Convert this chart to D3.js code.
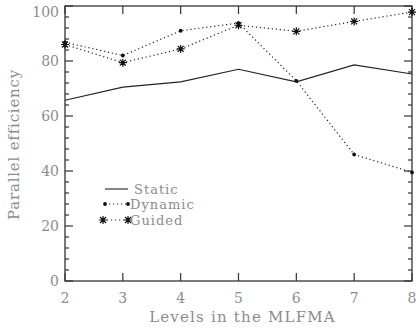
<!DOCTYPE html>
<html>
<head>
<meta charset="utf-8">
<script src="https://cdn.jsdelivr.net/npm/d3@7"></script>
<style>
  body { margin: 0; background: #fff; }
  text { font-family: "DejaVu Serif", serif; fill: #8c8c8c; }
</style>
</head>
<body>
<div id="chart"></div>
<script>
var levels = [2, 3, 4, 5, 6, 7, 8];
var staticEff  = [65.7, 70.5, 72.4, 77.0, 72.4, 78.6, 75.3];
var dynamicEff = [86.8, 82.0, 91.0, 93.8, 72.8, 46.0, 39.5];
var guidedEff  = [86.0, 79.4, 84.4, 93.0, 90.8, 94.4, 97.8];
var xTicks = [2, 3, 4, 5, 6, 7, 8];
var yTicks = [0, 20, 40, 60, 80, 100];
var seriesNames = ['Static', 'Dynamic', 'Guided'];

var W = 416, H = 329;
var margin = {top: 6, right: 4, bottom: 48, left: 65};
var width = W - margin.left - margin.right;
var height = H - margin.top - margin.bottom;

var svg = d3.select('#chart').append('svg')
    .attr('width', W)
    .attr('height', H)
  .append('g')
    .attr('transform', 'translate(' + margin.left + ',' + margin.top + ')');

var x = d3.scaleLinear().domain([2, 8]).range([0, width]);
var y = d3.scaleLinear().domain([0, 100]).range([height, 0]);

// frame
svg.append('rect')
    .attr('width', width).attr('height', height)
    .attr('fill', 'none').attr('stroke', '#333').attr('stroke-width', 1.3);

// x ticks bottom + top
xTicks.forEach(function(t) {
    svg.append('line').attr('x1', x(t)).attr('x2', x(t))
        .attr('y1', height).attr('y2', height - 8)
        .attr('stroke', '#333').attr('stroke-width', 1.2);
    svg.append('line').attr('x1', x(t)).attr('x2', x(t))
        .attr('y1', 0).attr('y2', 8)
        .attr('stroke', '#333').attr('stroke-width', 1.2);
    svg.append('text').attr('x', x(t)).attr('y', height + 22)
        .attr('text-anchor', 'middle').attr('font-size', 14).text(t);
});

// y ticks left + right, minor every 4
d3.range(0, 101, 4).forEach(function(t) {
    var major = t % 20 === 0;
    var len = major ? 8 : 4;
    svg.append('line').attr('x1', 0).attr('x2', len)
        .attr('y1', y(t)).attr('y2', y(t))
        .attr('stroke', '#333').attr('stroke-width', 1.2);
    svg.append('line').attr('x1', width).attr('x2', width - len)
        .attr('y1', y(t)).attr('y2', y(t))
        .attr('stroke', '#333').attr('stroke-width', 1.2);
});
yTicks.forEach(function(t) {
    var ty = Math.max(y(t) + 5, 11);
    svg.append('text').attr('x', -6).attr('y', ty)
        .attr('text-anchor', 'end').attr('font-size', 14).text(t);
});

// axis titles
svg.append('text')
    .attr('x', width / 2 + 4).attr('y', height + 41)
    .attr('text-anchor', 'middle').attr('font-size', 15)
    .attr('letter-spacing', 1.2)
    .text('Levels in the MLFMA');
svg.append('text')
    .attr('transform', 'translate(' + (-46) + ',' + (height / 2 + 1) + ') rotate(-90)')
    .attr('text-anchor', 'middle').attr('font-size', 15)
    .attr('letter-spacing', 0.8)
    .text('Parallel efficiency');

var line = d3.line()
    .x(function(d, i) { return x(levels[i]); })
    .y(function(d) { return y(d); });

svg.append('path').datum(staticEff)
    .attr('d', line).attr('fill', 'none')
    .attr('stroke', '#222').attr('stroke-width', 1.1);

svg.append('path').datum(dynamicEff)
    .attr('d', line).attr('fill', 'none')
    .attr('stroke', '#222').attr('stroke-width', 1.2)
    .attr('stroke-dasharray', '1.2,2.8');

svg.append('path').datum(guidedEff)
    .attr('d', line).attr('fill', 'none')
    .attr('stroke', '#222').attr('stroke-width', 1.2)
    .attr('stroke-dasharray', '1.2,2.8');

function dot(g, cx, cy) {
    g.append('circle').attr('cx', cx).attr('cy', cy).attr('r', 1.9).attr('fill', '#111');
}
function star(g, cx, cy) {
    var r = 4;
    var p = '';
    [[r, 0], [0, r], [r * 0.75, r * 0.75], [r * 0.75, -r * 0.75]].forEach(function(v) {
        p += 'M' + (cx - v[0]) + ',' + (cy - v[1]) + 'L' + (cx + v[0]) + ',' + (cy + v[1]);
    });
    g.append('path').attr('d', p).attr('stroke', '#111').attr('stroke-width', 1.2).attr('fill', 'none');
}

dynamicEff.forEach(function(d, i) { dot(svg, x(levels[i]), y(d)); });
guidedEff.forEach(function(d, i) { star(svg, x(levels[i]), y(d)); });

// legend
var lg = svg.append('g').attr('transform', 'translate(40,183)');
lg.append('line').attr('x1', 0).attr('x2', 23).attr('y1', 0).attr('y2', 0)
    .attr('stroke', '#222').attr('stroke-width', 1.1);
lg.append('text').attr('x', 29).attr('y', 4.5).attr('font-size', 13).attr('letter-spacing', 1).text(seriesNames[0]);

lg.append('line').attr('x1', 0).attr('x2', 23).attr('y1', 15).attr('y2', 15)
    .attr('stroke', '#222').attr('stroke-width', 1.2).attr('stroke-dasharray', '1.2,2.8');
dot(lg, 0, 15); dot(lg, 23, 15);
lg.append('text').attr('x', 25).attr('y', 19.5).attr('font-size', 13).attr('letter-spacing', 1).text(seriesNames[1]);

lg.append('line').attr('x1', -2).attr('x2', 23).attr('y1', 31).attr('y2', 31)
    .attr('stroke', '#222').attr('stroke-width', 1.2).attr('stroke-dasharray', '1.2,2.8');
star(lg, -2, 31); star(lg, 23, 31);
lg.append('text').attr('x', 25).attr('y', 35.5).attr('font-size', 13).attr('letter-spacing', 1).text(seriesNames[2]);
</script>
</body>
</html>
